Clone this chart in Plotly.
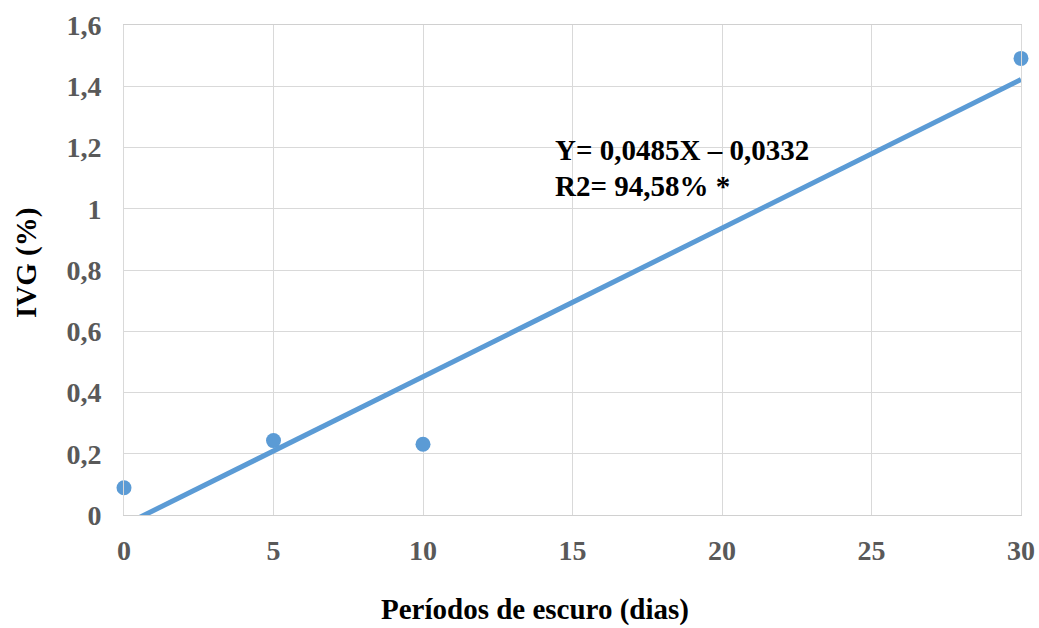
import plotly.graph_objects as go

# Data
dias = [0, 5, 10, 30]
ivg = [0.089, 0.243, 0.231, 1.491]

# Linear trend (from the equation shown on the chart)
slope = 0.0485
intercept = -0.0332
trend_x = [0, 30]
trend_y = [slope * x + intercept for x in trend_x]

x_ticks = [0, 5, 10, 15, 20, 25, 30]
y_ticks = [0, 0.2, 0.4, 0.6, 0.8, 1.0, 1.2, 1.4, 1.6]
eq_line1 = "Y= 0,0485X – 0,0332"
eq_line2 = "R2= 94,58% *"
x_title = "Períodos de escuro (dias)"
y_title = "IVG (%)"

BLUE = "#5b9bd5"
FONT = "Liberation Serif"

PW, PH = 897, 490  # plot-area size in px

fig = go.Figure()
fig.add_trace(go.Scatter(
    x=dias, y=ivg, mode="markers",
    marker=dict(color=BLUE, size=15),
    cliponaxis=False, showlegend=False, hoverinfo="x+y",
))
fig.add_trace(go.Scatter(
    x=trend_x, y=trend_y, mode="lines",
    line=dict(color=BLUE, width=5),
    showlegend=False, hoverinfo="skip",
))

fig.update_layout(
    width=1039, height=628,
    margin=dict(l=124, r=18, t=25, b=113),
    plot_bgcolor="white", paper_bgcolor="white",
    separators=", ",
    font=dict(family=FONT, color="#595959"),
    xaxis=dict(
        range=[0, 30], tickvals=x_ticks, automargin=False,
        showgrid=True, gridcolor="#d9d9d9", gridwidth=1,
        zeroline=False, showline=True, linecolor="#d0d0d0", linewidth=1, mirror=True,
        tickfont=dict(family=FONT, size=28, color="#595959", weight="bold"),
        ticks="", ticklabelstandoff=10,
    ),
    yaxis=dict(
        range=[0, 1.6], tickvals=y_ticks, automargin=False,
        showgrid=True, gridcolor="#d9d9d9", gridwidth=1,
        zeroline=False, showline=True, linecolor="#d9d9d9", linewidth=1, mirror=True,
        tickfont=dict(family=FONT, size=28, color="#595959", weight="bold"),
        ticks="", ticklabelstandoff=16,
    ),
    annotations=[
        dict(text=eq_line1, xref="paper", yref="paper", x=(553 - 124) / PW, y=(515 - 150) / PH,
             xanchor="left", yanchor="middle", showarrow=False,
             font=dict(family=FONT, size=29, color="black", weight="bold")),
        dict(text=eq_line2, xref="paper", yref="paper", x=(553 - 124) / PW, y=(515 - 186) / PH,
             xanchor="left", yanchor="middle", showarrow=False,
             font=dict(family=FONT, size=29, color="black", weight="bold")),
        dict(text=x_title, xref="paper", yref="paper", x=(535 - 124) / PW, y=(515 - 609) / PH,
             xanchor="center", yanchor="middle", showarrow=False,
             font=dict(family=FONT, size=29, color="black", weight="bold")),
        dict(text=y_title, xref="paper", yref="paper", x=(26 - 124) / PW, y=(515 - 263) / PH,
             xanchor="center", yanchor="middle", showarrow=False, textangle=-90,
             font=dict(family=FONT, size=29, color="black", weight="bold")),
    ],
)

fig.write_html(
    "out.html",
    config={"displayModeBar": False},
    post_script="document.body.style.margin='0px'; document.body.style.overflow='hidden';",
)
